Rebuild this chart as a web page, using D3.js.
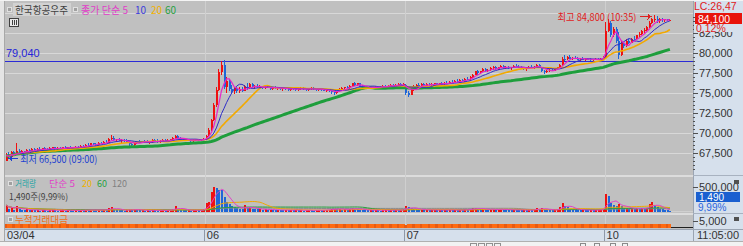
<!DOCTYPE html>
<html><head><meta charset="utf-8">
<script src="https://cdn.jsdelivr.net/npm/d3@7"></script>
<style>html,body{margin:0;padding:0;background:#fff;overflow:hidden}svg{display:block}</style>
</head><body><svg id="c" width="743" height="246"></svg>
<script>
// ---------------- DATA ----------------
const stockName = "한국항공우주";
const dayLabels = ["03/04", "06", "07", "10"];
const barsPerDay = 78;            // 5-minute bars per full session
const lastTime = "11:05:00";
// prices in units of 100 won (KRX tick size)
const opens = [
665,672,670,676,673,678,675,677,676,679,677,680,678,680,679,681,680,679,681,682,680,681,680,682,681,683,682,681,683,682,684,683,685,684,687,686,685,688,687,689,688,693,694,691,692,690,691,690,689,686,685,688,689,688,690,689,688,689,691,690,689,690,691,690,691,692,694,696,694,692,691,692,691,690,691,692,691,692,
693,696,704,716,735,754,776,785,758,765,755,753,756,752,755,753,758,756,761,757,759,757,758,756,758,757,755,757,756,757,755,756,755,754,756,755,754,755,756,755,754,755,756,755,754,755,754,753,754,752,751,750,752,755,756,757,756,759,762,760,762,758,757,758,757,756,757,758,757,758,759,758,759,760,759,760,761,760,
760,750,748,755,758,760,758,761,759,761,760,761,762,761,762,761,763,762,764,763,765,764,766,765,768,767,770,773,777,775,777,780,777,779,781,782,780,782,784,781,783,781,782,784,783,782,781,780,781,783,782,783,785,782,777,776,778,779,778,780,782,785,793,792,795,793,794,793,792,793,792,793,792,791,792,793,792,793,
795,828,838,823,830,815,798,812,809,815,813,818,817,822,824,827,829,832,838,842,843,840,842,841,842,841];
const highs = [
675,676,678,677,687,680,679,678,680,680,681,681,681,682,681,682,681,682,683,683,682,682,683,684,683,684,683,684,684,685,685,686,687,688,688,688,689,689,690,691,694,697,696,693,694,692,693,692,690,688,689,690,691,690,691,691,690,692,692,692,691,692,692,692,693,695,698,697,695,693,693,693,692,692,693,693,693,694,
697,706,718,738,758,780,790,791,770,768,760,758,758,757,757,760,762,763,762,760,761,760,759,759,760,759,758,759,758,758,757,758,757,757,757,756,756,757,757,756,756,757,757,756,756,756,755,755,755,754,753,753,756,757,758,759,760,763,764,763,763,760,759,759,759,758,759,759,759,760,760,760,761,761,761,762,762,762,
761,752,756,760,761,762,762,762,762,763,762,763,763,763,764,764,765,765,766,766,767,767,768,769,770,771,774,778,779,778,781,781,780,782,784,784,783,785,785,784,784,783,785,786,785,784,783,782,784,785,784,786,786,783,779,779,780,781,781,783,786,795,797,796,797,795,796,795,794,795,794,794,794,793,794,794,794,796,
839,843,840,833,832,826,815,814,817,818,819,821,823,826,829,831,834,840,844,848,846,844,844,843,843,843];
const lows = [
665,669,668,671,672,674,673,674,675,676,676,677,677,678,678,679,678,678,680,679,679,679,679,680,680,681,680,680,681,681,682,682,683,683,685,684,684,686,686,687,687,691,690,689,690,688,689,688,684,683,684,686,687,687,688,687,686,688,689,688,688,689,689,689,690,691,693,693,691,690,690,690,689,689,690,690,690,691,
692,695,703,715,733,752,772,755,750,752,750,749,750,750,751,752,754,755,756,755,756,755,755,755,756,754,754,755,754,754,753,754,753,753,754,753,752,754,754,753,753,754,754,753,752,753,752,751,751,749,748,749,751,753,754,755,755,758,759,759,757,756,755,756,755,755,756,756,756,757,757,757,758,758,758,759,759,759,
748,745,747,753,756,757,757,758,758,759,758,759,760,760,760,760,761,761,762,762,763,763,764,764,766,766,769,772,773,774,776,776,776,778,779,779,779,781,780,780,780,779,781,782,781,780,779,778,780,781,780,782,781,776,774,775,776,777,777,779,781,784,790,791,792,791,792,791,790,791,790,791,790,790,791,791,791,792,
794,826,820,820,812,792,796,806,807,811,812,815,816,820,822,825,827,831,836,839,838,838,839,839,840,840];
const closes = [
672,670,676,673,678,675,677,676,679,677,680,678,680,679,681,680,679,681,682,680,681,680,682,681,683,682,681,683,682,684,683,685,684,687,686,685,688,687,689,688,693,694,691,692,690,691,690,689,686,685,688,689,688,690,689,688,689,691,690,689,690,691,690,691,692,694,696,694,692,691,692,691,690,691,692,691,692,693,
696,704,716,735,754,776,785,758,765,755,753,756,752,755,753,758,756,761,757,759,757,758,756,758,757,755,757,756,757,755,756,755,754,756,755,754,755,756,755,754,755,756,755,754,755,754,753,754,752,751,750,752,755,756,757,756,759,762,760,762,758,757,758,757,756,757,758,757,758,759,758,759,760,759,760,761,760,761,
750,748,755,758,760,758,761,759,761,760,761,762,761,762,761,763,762,764,763,765,764,766,765,768,767,770,773,777,775,777,780,777,779,781,782,780,782,784,781,783,781,782,784,783,782,781,780,781,783,782,783,785,782,777,776,778,779,778,780,782,785,793,792,795,793,794,793,792,793,792,793,792,791,792,793,792,793,795,
828,838,823,830,815,798,812,809,815,813,818,817,822,824,827,829,832,838,842,843,840,842,841,842,841,841];
const volumes = [
130000,60000,70000,40000,110000,50000,35000,30000,45000,30000,35000,25000,30000,20000,30000,25000,20000,30000,35000,25000,20000,25000,30000,20000,30000,25000,20000,25000,20000,30000,25000,35000,25000,40000,30000,25000,35000,30000,40000,30000,70000,90000,50000,35000,30000,25000,20000,25000,55000,35000,40000,30000,25000,30000,20000,25000,20000,30000,25000,20000,25000,30000,20000,25000,35000,60000,110000,60000,40000,30000,25000,30000,20000,25000,30000,25000,30000,45000,
170000,200000,400000,510000,480000,440000,430000,300000,200000,150000,110000,90000,70000,60000,55000,130000,70000,90000,60000,50000,45000,50000,40000,45000,35000,40000,35000,30000,35000,30000,25000,30000,25000,35000,25000,30000,25000,30000,20000,25000,30000,25000,20000,25000,30000,25000,30000,35000,40000,55000,60000,45000,50000,40000,45000,35000,60000,80000,50000,45000,40000,35000,30000,25000,30000,25000,30000,25000,20000,25000,30000,25000,30000,25000,30000,25000,30000,50000,
110000,90000,70000,50000,45000,35000,40000,30000,35000,25000,30000,35000,25000,30000,25000,35000,30000,35000,25000,30000,25000,35000,30000,45000,35000,50000,65000,80000,50000,45000,60000,40000,35000,45000,50000,35000,40000,55000,40000,35000,30000,25000,40000,35000,30000,25000,30000,25000,35000,30000,40000,75000,50000,70000,45000,35000,30000,25000,35000,45000,90000,175000,120000,90000,60000,50000,40000,35000,30000,35000,30000,25000,30000,25000,30000,35000,40000,60000,
350000,310000,170000,130000,120000,160000,110000,70000,80000,60000,70000,55000,65000,60000,70000,60000,80000,150000,190000,130000,90000,60000,50000,40000,30000,1490];
const priceMAs = [5, 10, 20, 60];
const volumeMAs = [5, 20, 60, 120];
const priceTicks = [67500, 70000, 72500, 75000, 77500, 80000, 82500];
const gridTicks = [67500, 70000, 72500, 75000, 77500, 80000, 82500, 85000];
const volumeTicks = [500000];
const valueTicks = [5000];
const refLevel = 79040;
const infoLC = "LC:26,47";
const infoChange = "0,12%";
const infoVolPct = "9,99%";

// ---------------- SETUP ----------------
const UNIT = 100;
const N = closes.length;
const bars = d3.range(N).map(i => ({
  i, o: opens[i]*UNIT, h: highs[i]*UNIT, l: lows[i]*UNIT, c: closes[i]*UNIT, v: volumes[i],
  day: Math.floor(i / barsPerDay), slot: i % barsPerDay
}));
const FK = "'Noto Sans CJK KR','Noto Sans',sans-serif";
const FN = "'Liberation Sans Narrow','Liberation Sans',Arial,sans-serif";
const RED = "#ee1111", BLUE = "#1f66d8";
const PL = 5, PR = 693;

const svg = d3.select("#c").attr("shape-rendering", "crispEdges");
const x = d3.scaleLinear().domain([0, barsPerDay*4]).range([PL, PL + 4*199.85]);
const cx = i => x(i + 0.5);
const yP = d3.scaleLinear().domain([65000, 85000]).range([173, 13]);
const yV = d3.scaleLinear().domain([0, 500000]).range([211.5, 187]).clamp(true);
const yA = d3.scaleLinear().domain([0, 100]).range([227.5, 224]).clamp(true);

function txt(g, xx, yy, s, opt) {
  const t = g.append("text").attr("x", xx).attr("y", yy)
    .attr("font-family", opt.font || FN).attr("font-size", opt.size || 11)
    .attr("fill", opt.fill || "#333").text(s);
  if (opt.anchor) t.attr("text-anchor", opt.anchor);
  if (opt.len) t.attr("textLength", opt.len).attr("lengthAdjust", "spacingAndGlyphs");
  return t;
}

// backgrounds
svg.append("rect").attr("x",0).attr("y",0).attr("width",743).attr("height",246).attr("fill","#e4e4e4");
svg.append("rect").attr("x",PL).attr("y",1).attr("width",PR-PL).attr("height",228).attr("fill","#c0c0c0");
svg.append("rect").attr("x",PR).attr("y",1).attr("width",743-PR).attr("height",228).attr("fill","#d6e0ec");
svg.append("rect").attr("x",PL).attr("y",229).attr("width",743-PL).attr("height",12).attr("fill","#d6e0ec");
svg.append("line").attr("x1",PL-0.5).attr("x2",PL-0.5).attr("y1",0).attr("y2",241).attr("stroke","#a8a8a8");
svg.append("line").attr("x1",PR+0.5).attr("x2",PR+0.5).attr("y1",1).attr("y2",241).attr("stroke","#9aa4b2");
svg.append("line").attr("x1",PL).attr("x2",743).attr("y1",229.5).attr("y2",229.5).attr("stroke","#9aa4b2");
svg.append("line").attr("x1",0).attr("x2",743).attr("y1",0.5).attr("y2",0.5).attr("stroke","#f4f4f4");
// panel separators
[175, 213].forEach(yy => {
  svg.append("line").attr("x1",PL).attr("x2",PR).attr("y1",yy+0.5).attr("y2",yy+0.5).attr("stroke","#dcdcdc").attr("stroke-width",2);
  svg.append("line").attr("x1",PR).attr("x2",743).attr("y1",yy+0.5).attr("y2",yy+0.5).attr("stroke","#a8b2c0");
});
// bottom toolbar
svg.append("rect").attr("x",0).attr("y",241).attr("width",743).attr("height",5).attr("fill","#f2f2f2");
svg.append("line").attr("x1",0).attr("x2",743).attr("y1",241.5).attr("y2",241.5).attr("stroke","#b0b0b0");
[470,478,486,494].forEach(px => svg.append("rect").attr("x",px+0.5).attr("y",243.5).attr("width",6).attr("height",4).attr("fill","none").attr("stroke","#909090"));
[580,594,610,622].forEach(px => svg.append("rect").attr("x",px+0.5).attr("y",243.5).attr("width",5).attr("height",4).attr("fill","none").attr("stroke","#8a8a8a"));

// grid lines
svg.append("g").selectAll("line").data(gridTicks).join("line")
  .attr("x1",PL).attr("x2",PR).attr("y1",d=>Math.round(yP(d))+0.5).attr("y2",d=>Math.round(yP(d))+0.5)
  .attr("stroke","#d8d8d8");
// day separators
svg.append("g").selectAll("line").data(dayLabels.slice(1)).join("line")
  .attr("x1",(d,k)=>Math.round(x((k+1)*barsPerDay))+0.5).attr("x2",(d,k)=>Math.round(x((k+1)*barsPerDay))+0.5)
  .attr("y1",1).attr("y2",228).attr("stroke","#cfcfcf");
svg.append("line").attr("x1",PL).attr("x2",PR).attr("y1",211.5).attr("y2",211.5).attr("stroke","#d0d0d0");

// reference level line
svg.append("line").attr("x1",PL).attr("x2",PR).attr("y1",Math.round(yP(refLevel))+0.5).attr("y2",Math.round(yP(refLevel))+0.5).attr("stroke","#2b2bd6");

// ---------------- CANDLES ----------------
const gC = svg.append("g");
gC.selectAll("line").data(bars).join("line")
  .attr("x1",d=>Math.floor(cx(d.i))+0.5).attr("x2",d=>Math.floor(cx(d.i))+0.5)
  .attr("y1",d=>yP(d.h)).attr("y2",d=>yP(d.l))
  .attr("stroke",d=>d.c>=d.o?RED:BLUE);
gC.selectAll("rect").data(bars).join("rect")
  .attr("x",d=>Math.floor(cx(d.i))-0.5).attr("width",2)
  .attr("y",d=>yP(Math.max(d.o,d.c)))
  .attr("height",d=>Math.max(1, Math.abs(yP(d.o)-yP(d.c))))
  .attr("fill",d=>d.c>=d.o?RED:BLUE);

// moving averages
function ma(vals, n){ return vals.map((v,i)=>d3.mean(vals.slice(Math.max(0,i-n+1), i+1))); }
const closeW = bars.map(b=>b.c);
const maStyle = {5:["#e628c8",1.2],10:["#2d2dc8",1],20:["#f2a900",1.6],60:["#1e9e3c",3]};
const gMA = svg.append("g").attr("shape-rendering","auto");
[60,20,10,5].forEach(n => {
  gMA.append("path").datum(ma(closeW, n))
    .attr("d", d3.line().x((d,i)=>cx(i)).y(d=>yP(d)))
    .attr("fill","none").attr("stroke",maStyle[n][0]).attr("stroke-width",maStyle[n][1]);
});

// ---------------- VOLUME ----------------
const gV = svg.append("g");
gV.selectAll("rect").data(bars).join("rect")
  .attr("x",d=>Math.floor(cx(d.i))-0.5).attr("width",2)
  .attr("y",d=>yV(d.v)).attr("height",d=>Math.max(0.5, 211.5-yV(d.v)))
  .attr("fill",d=>(d.i===0||d.v>=bars[d.i-1].v)?RED:BLUE);
const vmaStyle = {5:"#e040c8",20:"#f0a800",60:"#28a040",120:"#8a8a8a"};
const gVM = svg.append("g").attr("shape-rendering","auto");
[120,60,20,5].forEach(n=>{
  gVM.append("path").datum(ma(volumes,n))
    .attr("d", d3.line().x((d,i)=>cx(i)).y(d=>yV(d)))
    .attr("fill","none").attr("stroke",vmaStyle[n]).attr("stroke-width",1);
});

// ---------------- ACCUMULATED TRADING VALUE ----------------
const cum = []; let acc = 0;
bars.forEach(b => { if (b.slot===0) acc = 0; acc += b.v*b.c/1e8; cum.push(acc); });
svg.append("line").attr("x1",PL).attr("x2",PR).attr("y1",227.5).attr("y2",227.5).attr("stroke","#202020");
svg.append("g").selectAll("rect").data(bars).join("rect")
  .attr("x",d=>Math.floor(cx(d.i))-1).attr("width",3)
  .attr("y",d=>yA(cum[d.i])).attr("height",d=>227.5-yA(cum[d.i]))
  .attr("fill",(d)=>d.i%3===0?"#e85a10":"#ff6a10");

// ---------------- AXES ----------------
const axP = svg.append("g").attr("transform",`translate(${PR},0)`)
  .call(d3.axisRight(yP).tickValues(priceTicks).tickSize(5).tickPadding(1).tickFormat(d3.format(",")));
const axPm = svg.append("g").attr("transform",`translate(${PR},0)`)
  .call(d3.axisRight(yP).tickValues(d3.range(65500, 85000, 500)).tickSize(2).tickFormat(""));
const axV = svg.append("g").attr("transform",`translate(${PR},0)`)
  .call(d3.axisRight(yV).tickValues(volumeTicks).tickSize(5).tickPadding(1).tickFormat(d3.format(",")));
const yAx = d3.scaleLinear().domain([0, 5000]).range([227.5, 221]);
const axA = svg.append("g").attr("transform",`translate(${PR},0)`)
  .call(d3.axisRight(yAx).tickValues(valueTicks).tickSize(5).tickPadding(1).tickFormat(d3.format(",")));
[axP,axPm,axV,axA].forEach(g=>{
  g.select(".domain").remove();
  g.selectAll("line").attr("stroke","#505050");
  g.selectAll("text").attr("font-family",FN).attr("font-size",11).attr("fill","#333");
});

// date axis
svg.append("g").selectAll("text").data(dayLabels).join("text")
  .attr("x",(d,k)=>x(k*barsPerDay)+2).attr("y",239)
  .attr("font-family",FN).attr("font-size",11).attr("fill","#333").text(d=>d);
svg.append("g").selectAll("line").data(dayLabels.slice(1)).join("line")
  .attr("x1",(d,k)=>Math.round(x((k+1)*barsPerDay))-0.5).attr("x2",(d,k)=>Math.round(x((k+1)*barsPerDay))-0.5)
  .attr("y1",230).attr("y2",241).attr("stroke","#8e98a8");
txt(svg, 697, 239, lastTime, {});

// ---------------- LABELS ----------------
const last = bars[N-1];
// top-right info (drawn over the 82,500 label, as in the source)
txt(svg, 694, 10, infoLC, {fill:"#e02020", size:10.5});
svg.append("rect").attr("x",695).attr("y",13).attr("width",47).attr("height",11).attr("fill","#e8140c");
txt(svg, 698, 22.5, d3.format(",")(last.c), {fill:"#fff", size:10.5});
svg.append("rect").attr("x",694).attr("y",24).attr("width",48).attr("height",8).attr("fill","#d6e0ec");
txt(svg, 696, 32, infoChange, {fill:"#e02020", size:10.5});
// volume info box
svg.append("rect").attr("x",696).attr("y",192).attr("width",44).attr("height",10).attr("fill","#1a5fd0");
txt(svg, 699, 200.5, d3.format(",")(last.v), {fill:"#fff", size:10});
txt(svg, 698, 211, infoVolPct, {fill:"#2a66e0", size:10});
[180,217].forEach(yy=>svg.append("rect").attr("x",734).attr("y",yy).attr("width",5).attr("height",4).attr("fill","#505050"));

// legends
function sq(xx, yy){ svg.append("rect").attr("x",xx).attr("y",yy).attr("width",4).attr("height",4).attr("fill","#a0a0a0").attr("stroke","#e0e0e0"); }
sq(7.5,7.5);
svg.append("rect").attr("x",13).attr("y",3).attr("width",58).attr("height",13).attr("fill","#d2d2d2");
txt(svg, 15, 14, stockName, {font:FK, size:10, fill:"#404040", len:53});
sq(73.5,7.5);
txt(svg, 81, 14, "종가 단순 " + priceMAs[0], {font:FK, size:10, fill:"#e03cc8", len:47});
txt(svg, 135, 14, String(priceMAs[1]), {font:FK, size:10, fill:"#3c3cdc"});
txt(svg, 151, 14, String(priceMAs[2]), {font:FK, size:10, fill:"#f0b000"});
txt(svg, 165, 14, String(priceMAs[3]), {font:FK, size:10, fill:"#28a040"});
// chart-type icon
svg.append("rect").attr("x",9.5).attr("y",18.5).attr("width",9).attr("height",8).attr("fill","#e8e8e8").attr("stroke","#404040");
[12,14,16].forEach(px=>svg.append("line").attr("x1",px+0.5).attr("x2",px+0.5).attr("y1",20).attr("y2",25).attr("stroke","#404040"));

// ref level label
txt(svg, 6, yP(refLevel)-3.5, d3.format(",")(refLevel), {fill:"#2424d8", size:11});

// max / min annotations
const hiBar = bars.reduce((a,b)=>b.h>a.h?b:a);
const loBar = bars.reduce((a,b)=>b.l<a.l?b:a);
const tstr = b => { const m = 9*60 + b.slot*5; return `${String(Math.floor(m/60)).padStart(2,"0")}:${String(m%60).padStart(2,"0")}`; };
const hy = Math.round(yP(hiBar.h)) + 1.5, htx = cx(hiBar.i) - 3;
svg.append("line").attr("x1",htx-12).attr("x2",htx).attr("y1",hy).attr("y2",hy).attr("stroke","#e02020");
svg.append("path").attr("d",`M${htx},${hy} l-4,-3 v6 z`).attr("fill","#e02020");
txt(svg, htx-15, hy+4, `최고 ${d3.format(",")(hiBar.h)} (${tstr(hiBar)})`, {font:FK, size:10, fill:"#e02020", anchor:"end", len:79});
const ly = Math.round(yP(loBar.l)) - 2.5, ltx = cx(loBar.i) + 2;
svg.append("line").attr("x1",ltx).attr("x2",ltx+10).attr("y1",ly).attr("y2",ly).attr("stroke","#2040d0");
svg.append("path").attr("d",`M${ltx},${ly} l4,-3 v6 z`).attr("fill","#2040d0");
txt(svg, ltx+12, ly+4, `최저 ${d3.format(",")(loBar.l)} (${tstr(loBar)})`, {font:FK, size:10, fill:"#2040d0", len:77});

// volume legend
sq(8.5,181.5);
txt(svg, 15, 186.5, "거래량", {font:FK, size:9, fill:"#2aa6a6", len:21});
txt(svg, 49, 186.5, "단순 " + volumeMAs[0], {font:FK, size:9, fill:"#e03cc8", len:26});
txt(svg, 82, 186.5, String(volumeMAs[1]), {font:FK, size:9, fill:"#f0b000"});
txt(svg, 97, 186.5, String(volumeMAs[2]), {font:FK, size:9, fill:"#28a040"});
txt(svg, 112, 186.5, String(volumeMAs[3]), {font:FK, size:9, fill:"#808080"});
txt(svg, 9, 199.5, `${d3.format(",")(last.v)}주(${infoVolPct})`, {font:FK, size:9, fill:"#404040", len:59});
sq(8.5,217.5);
txt(svg, 15, 222.5, "누적거래대금", {font:FK, size:9.5, fill:"#f07020", len:53});
</script></body></html>
